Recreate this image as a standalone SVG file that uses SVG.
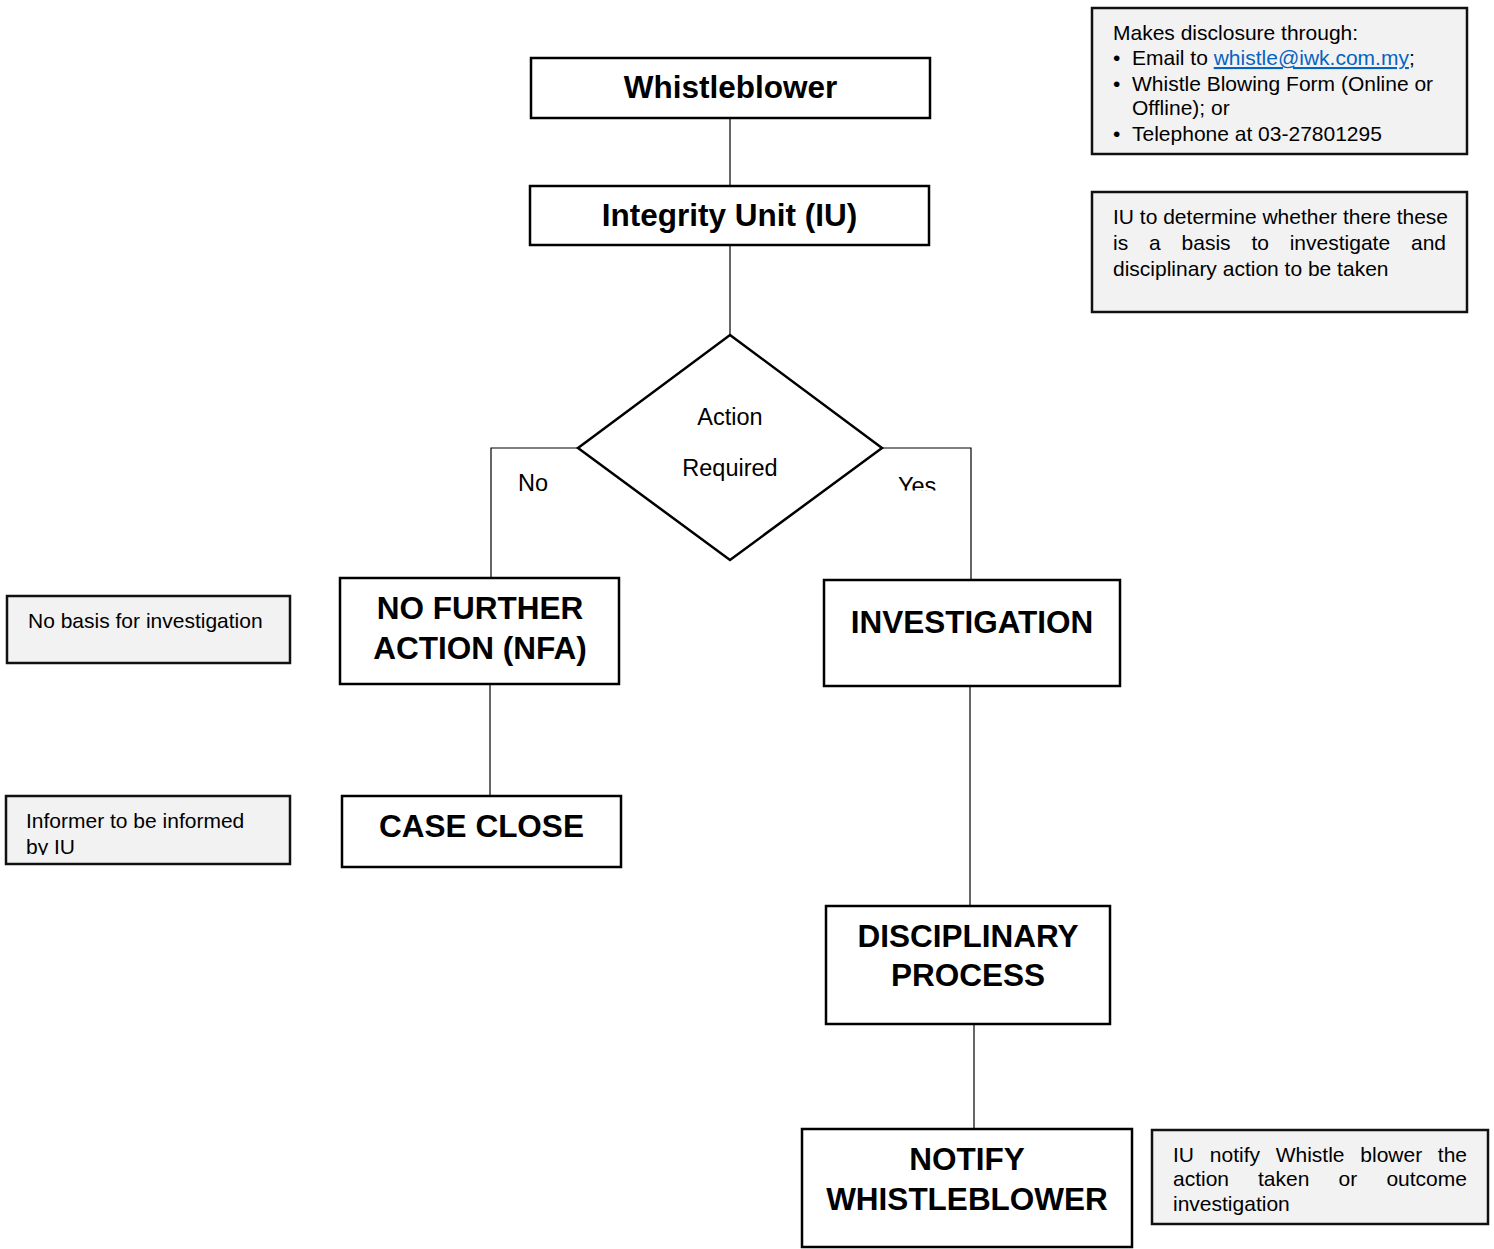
<svg xmlns="http://www.w3.org/2000/svg" width="1494" height="1249" viewBox="0 0 1494 1249">
<style>
.box{fill:#fff;stroke:#000;stroke-width:2.5}
.note{fill:#f2f2f2;stroke:#111;stroke-width:2.5}
.conn{fill:none;stroke:#000;stroke-width:1.2}
.h{font-family:"Liberation Sans",Arial,sans-serif;font-weight:bold;font-size:31.5px;fill:#000;text-anchor:middle}
.t{font-family:"Liberation Sans",Arial,sans-serif;font-size:21px;fill:#000}
.d{font-family:"Liberation Sans",Arial,sans-serif;font-size:23.5px;fill:#000}
.link{fill:#0563C1;text-decoration:underline}
</style>
<defs>
<clipPath id="clipYes"><rect x="880" y="460" width="100" height="30.5"/></clipPath>
<clipPath id="clipInf"><rect x="6" y="796" width="284" height="59"/></clipPath>
</defs>
<rect width="1494" height="1249" fill="#fff"/>
<g id="connectors">
<line class="conn" x1="730" y1="118" x2="730" y2="186"/>
<line class="conn" x1="730" y1="245" x2="730" y2="335"/>
<polyline class="conn" points="578,448 491,448 491,578"/>
<polyline class="conn" points="882,448 971,448 971,580"/>
<line class="conn" x1="490" y1="684" x2="490" y2="796"/>
<line class="conn" x1="970" y1="686" x2="970" y2="906"/>
<line class="conn" x1="974" y1="1024" x2="974" y2="1129"/>
<text class="d" x="518" y="490.5">No</text>
<text class="d" x="898" y="494" clip-path="url(#clipYes)">Yes</text>
</g>
<g id="whistleblower">
<rect class="box" x="531" y="58" width="399" height="60"/>
<text class="h" x="730.5" y="98" font-size="32">Whistleblower</text>
</g>
<g id="integrity-unit">
<rect class="box" x="530" y="186" width="399" height="59"/>
<text class="h" x="729.5" y="226" font-size="32">Integrity Unit (IU)</text>
</g>
<g id="action-required">
<polygon points="730,335 882,448 730,560 578,448" fill="#fff" stroke="#000" stroke-width="2.5"/>
<text class="d" x="730" y="425" text-anchor="middle">Action</text>
<text class="d" x="730" y="476" text-anchor="middle">Required</text>
</g>
<g id="nfa">
<rect class="box" x="340" y="578" width="279" height="106"/>
<text class="h" x="480" y="619">NO FURTHER</text>
<text class="h" x="480" y="659">ACTION (NFA)</text>
</g>
<g id="case-close">
<rect class="box" x="342" y="796" width="279" height="71"/>
<text class="h" x="481.5" y="837">CASE CLOSE</text>
</g>
<g id="investigation">
<rect class="box" x="824" y="580" width="296" height="106"/>
<text class="h" x="972" y="633">INVESTIGATION</text>
</g>
<g id="disciplinary">
<rect class="box" x="826" y="906" width="284" height="118"/>
<text class="h" x="968" y="947">DISCIPLINARY</text>
<text class="h" x="968" y="986">PROCESS</text>
</g>
<g id="notify">
<rect class="box" x="802" y="1129" width="330" height="118"/>
<text class="h" x="967" y="1170">NOTIFY</text>
<text class="h" x="967" y="1210">WHISTLEBLOWER</text>
</g>
<g id="note-disclosure">
<rect class="note" x="1092" y="8" width="375" height="146"/>
<text class="t" x="1113" y="39.5">Makes disclosure through:</text>
<text class="t" x="1113" y="65">•</text>
<text class="t" x="1132" y="65">Email to <tspan class="link">whistle@iwk.com.my</tspan>;</text>
<text class="t" x="1113" y="90.5">•</text>
<text class="t" x="1132" y="90.5">Whistle Blowing Form (Online or</text>
<text class="t" x="1132" y="115">Offline); or</text>
<text class="t" x="1113" y="141">•</text>
<text class="t" x="1132" y="141">Telephone at 03-27801295</text>
</g>
<g id="note-determine">
<rect class="note" x="1092" y="192" width="375" height="120"/>
<text class="t" x="1113" y="223.5">IU to determine whether there these</text>
<text class="t" y="249.5"><tspan x="1113">is</tspan><tspan x="1149">a</tspan><tspan x="1181.6">basis</tspan><tspan x="1251.4">to</tspan><tspan x="1289.7">investigate</tspan><tspan x="1411">and</tspan></text>
<text class="t" x="1113" y="276">disciplinary action to be taken</text>
</g>
<g id="note-nobasis">
<rect class="note" x="7" y="596" width="283" height="67"/>
<text class="t" x="28" y="627.5">No basis for investigation</text>
</g>
<g id="note-informer">
<rect class="note" x="6" y="796" width="284" height="68"/>
<text class="t" x="26" y="827.5">Informer to be informed</text>
<text class="t" x="26" y="853.5" clip-path="url(#clipInf)">by IU</text>
</g>
<g id="note-notify">
<rect class="note" x="1152" y="1130" width="336" height="94"/>
<text class="t" y="1161.5"><tspan x="1173">IU</tspan><tspan x="1209.8">notify</tspan><tspan x="1275.7">Whistle</tspan><tspan x="1360.3">blower</tspan><tspan x="1437.8">the</tspan></text>
<text class="t" y="1186"><tspan x="1173">action</tspan><tspan x="1258">taken</tspan><tspan x="1338.6">or</tspan><tspan x="1386.4">outcome</tspan></text>
<text class="t" x="1173" y="1210.5">investigation</text>
</g>
</svg>
